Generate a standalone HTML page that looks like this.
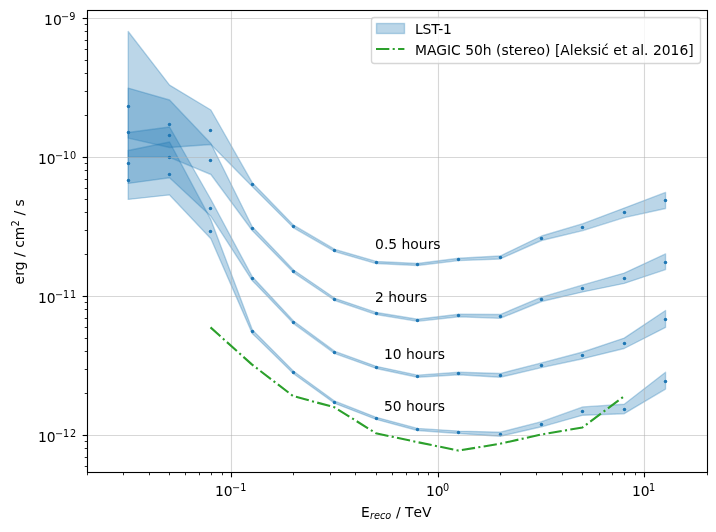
<!DOCTYPE html>
<html lang="en"><head><meta charset="utf-8"><title>LST-1 differential sensitivity</title>
<style>
html,body{margin:0;padding:0;background:#ffffff;}
svg{display:block;will-change:transform;filter:grayscale(0);}
text{font-family:"DejaVu Sans","Liberation Sans",sans-serif;fill:#000;}
.t10{font-size:13.889px;}
.t7{font-size:9.722px;}
.nk{font-kerning:none;}
</style></head>
<body>
<svg width="716" height="532" viewBox="0 0 716 532">
<rect x="0" y="0" width="716" height="532" fill="#ffffff"/>
<clipPath id="axclip"><rect x="87.1" y="10.22" width="620.0" height="462.0"/></clipPath>
<g clip-path="url(#axclip)" fill="#1f77b4" fill-opacity="0.3" stroke="#1f77b4" stroke-opacity="0.3" stroke-width="1.389" stroke-linejoin="round">
<polygon points="128.22,31.5 169.55,85.1 210.89,110 252.22,182.7 293.55,225.2 334.89,249.4 376.22,261.45 417.55,263.45 458.89,258.2 500.22,256.05 541.55,236 582.89,223.7 624.22,208.1 665.55,192.4 665.55,208.5 624.22,217.6 582.89,230.6 541.55,240.5 500.22,258.95 458.89,260.6 417.55,265.55 376.22,263.55 334.89,251.6 293.55,227.8 252.22,186.5 210.89,144.5 169.55,147.5 128.22,138.1"/>
<polygon points="128.22,88.1 169.55,100 210.89,143.5 252.22,226.7 293.55,270 334.89,298.3 376.22,312.45 417.55,319.25 458.89,314.3 500.22,314.55 541.55,297.2 582.89,284.9 624.22,273.1 665.55,253.9 665.55,269.6 624.22,283.4 582.89,291.9 541.55,301.5 500.22,318.35 458.89,316.7 417.55,321.35 376.22,314.55 334.89,300.5 293.55,272.6 252.22,230.5 210.89,174.5 169.55,157.3 128.22,157.2"/>
<polygon points="128.22,132.5 169.55,127 210.89,199.5 252.22,276.7 293.55,321 334.89,351.4 376.22,366.35 417.55,375.15 458.89,372.3 500.22,373.55 541.55,362.9 582.89,352 624.22,338.1 665.55,310.5 665.55,327.4 624.22,348.5 582.89,358.7 541.55,367.6 500.22,377.25 458.89,374.7 417.55,377.25 376.22,368.45 334.89,353.6 293.55,323.6 252.22,280.5 210.89,216.3 169.55,177.7 128.22,183.4"/>
<polygon points="128.22,150.5 169.55,142 210.89,219.7 252.22,329.6 293.55,371.2 334.89,401.2 376.22,417.35 417.55,428.4 458.89,431.1 500.22,432.2 541.55,421.7 582.89,406.9 624.22,404.3 665.55,372.3 665.55,389.1 624.22,413.7 582.89,415.2 541.55,426.8 500.22,436.25 458.89,433.5 417.55,430.5 376.22,419.45 334.89,403.4 293.55,373.8 252.22,333.4 210.89,238.8 169.55,194.9 128.22,199.4"/>
</g>
<g fill="#1f77b4" stroke="none">
<circle cx="128.5" cy="106.5" r="1.74"/><circle cx="169.5" cy="124.5" r="1.74"/><circle cx="210.5" cy="130.5" r="1.74"/><circle cx="252.5" cy="184.5" r="1.74"/><circle cx="293.5" cy="226.5" r="1.74"/><circle cx="334.5" cy="250.5" r="1.74"/><circle cx="376.5" cy="262.5" r="1.74"/><circle cx="417.5" cy="264.5" r="1.74"/><circle cx="458.5" cy="259.5" r="1.74"/><circle cx="500.5" cy="257.5" r="1.74"/><circle cx="541.5" cy="238.5" r="1.74"/><circle cx="582.5" cy="227.5" r="1.74"/><circle cx="624.5" cy="212.5" r="1.74"/><circle cx="665.5" cy="200.5" r="1.74"/>
<circle cx="128.5" cy="132.5" r="1.74"/><circle cx="169.5" cy="135.5" r="1.74"/><circle cx="210.5" cy="160.5" r="1.74"/><circle cx="252.5" cy="228.5" r="1.74"/><circle cx="293.5" cy="271.5" r="1.74"/><circle cx="334.5" cy="299.5" r="1.74"/><circle cx="376.5" cy="313.5" r="1.74"/><circle cx="417.5" cy="320.5" r="1.74"/><circle cx="458.5" cy="315.5" r="1.74"/><circle cx="500.5" cy="316.5" r="1.74"/><circle cx="541.5" cy="299.5" r="1.74"/><circle cx="582.5" cy="288.5" r="1.74"/><circle cx="624.5" cy="278.5" r="1.74"/><circle cx="665.5" cy="262.5" r="1.74"/>
<circle cx="128.5" cy="163.5" r="1.74"/><circle cx="169.5" cy="157.5" r="1.74"/><circle cx="210.5" cy="208.5" r="1.74"/><circle cx="252.5" cy="278.5" r="1.74"/><circle cx="293.5" cy="322.5" r="1.74"/><circle cx="334.5" cy="352.5" r="1.74"/><circle cx="376.5" cy="367.5" r="1.74"/><circle cx="417.5" cy="376.5" r="1.74"/><circle cx="458.5" cy="373.5" r="1.74"/><circle cx="500.5" cy="375.5" r="1.74"/><circle cx="541.5" cy="365.5" r="1.74"/><circle cx="582.5" cy="355.5" r="1.74"/><circle cx="624.5" cy="343.5" r="1.74"/><circle cx="665.5" cy="319.5" r="1.74"/>
<circle cx="128.5" cy="180.5" r="1.74"/><circle cx="169.5" cy="174.5" r="1.74"/><circle cx="210.5" cy="231.5" r="1.74"/><circle cx="252.5" cy="331.5" r="1.74"/><circle cx="293.5" cy="372.5" r="1.74"/><circle cx="334.5" cy="402.5" r="1.74"/><circle cx="376.5" cy="418.5" r="1.74"/><circle cx="417.5" cy="429.5" r="1.74"/><circle cx="458.5" cy="432.5" r="1.74"/><circle cx="500.5" cy="434.5" r="1.74"/><circle cx="541.5" cy="424.5" r="1.74"/><circle cx="582.5" cy="411.5" r="1.74"/><circle cx="624.5" cy="409.5" r="1.74"/><circle cx="665.5" cy="381.5" r="1.74"/>
</g>
<g stroke="#b0b0b0" stroke-opacity="0.5" stroke-width="1.111" fill="none">
<line x1="231.5" y1="10.22" x2="231.5" y2="472.22"/>
<line x1="438.5" y1="10.22" x2="438.5" y2="472.22"/>
<line x1="644.5" y1="10.22" x2="644.5" y2="472.22"/>
<line x1="87.1" y1="18.5" x2="707.1" y2="18.5"/>
<line x1="87.1" y1="157.5" x2="707.1" y2="157.5"/>
<line x1="87.1" y1="296.5" x2="707.1" y2="296.5"/>
<line x1="87.1" y1="435.5" x2="707.1" y2="435.5"/>
</g>
<polyline clip-path="url(#axclip)" points="210.49,327.4 251.82,364.4 293.15,396.1 334.49,407.3 375.82,433.2 417.15,442.1 458.49,450.6 499.82,443.8 541.15,434.5 582.49,427.5 623.82,396.5" fill="none" stroke="#2ca02c" stroke-width="2.083" stroke-dasharray="13.333 3.333 2.083 3.333" stroke-linejoin="round"/>
<g stroke="#000" fill="none">
<g stroke-width="1.111">
<line x1="231.5" y1="472.5" x2="231.5" y2="477.36"/><line x1="438.5" y1="472.5" x2="438.5" y2="477.36"/><line x1="644.5" y1="472.5" x2="644.5" y2="477.36"/><line x1="87.5" y1="18.5" x2="82.64" y2="18.5"/><line x1="87.5" y1="157.5" x2="82.64" y2="157.5"/><line x1="87.5" y1="296.5" x2="82.64" y2="296.5"/><line x1="87.5" y1="435.5" x2="82.64" y2="435.5"/>
</g>
<g stroke-width="0.833">
<line x1="87.5" y1="472.5" x2="87.5" y2="475.28"/><line x1="123.5" y1="472.5" x2="123.5" y2="475.28"/><line x1="149.5" y1="472.5" x2="149.5" y2="475.28"/><line x1="169.5" y1="472.5" x2="169.5" y2="475.28"/><line x1="185.5" y1="472.5" x2="185.5" y2="475.28"/><line x1="199.5" y1="472.5" x2="199.5" y2="475.28"/><line x1="211.5" y1="472.5" x2="211.5" y2="475.28"/><line x1="222.5" y1="472.5" x2="222.5" y2="475.28"/><line x1="293.5" y1="472.5" x2="293.5" y2="475.28"/><line x1="330.5" y1="472.5" x2="330.5" y2="475.28"/><line x1="355.5" y1="472.5" x2="355.5" y2="475.28"/><line x1="376.5" y1="472.5" x2="376.5" y2="475.28"/><line x1="392.5" y1="472.5" x2="392.5" y2="475.28"/><line x1="406.5" y1="472.5" x2="406.5" y2="475.28"/><line x1="418.5" y1="472.5" x2="418.5" y2="475.28"/><line x1="428.5" y1="472.5" x2="428.5" y2="475.28"/><line x1="500.5" y1="472.5" x2="500.5" y2="475.28"/><line x1="536.5" y1="472.5" x2="536.5" y2="475.28"/><line x1="562.5" y1="472.5" x2="562.5" y2="475.28"/><line x1="582.5" y1="472.5" x2="582.5" y2="475.28"/><line x1="599.5" y1="472.5" x2="599.5" y2="475.28"/><line x1="612.5" y1="472.5" x2="612.5" y2="475.28"/><line x1="624.5" y1="472.5" x2="624.5" y2="475.28"/><line x1="635.5" y1="472.5" x2="635.5" y2="475.28"/><line x1="707.5" y1="472.5" x2="707.5" y2="475.28"/>
<line x1="87.5" y1="466.5" x2="84.72" y2="466.5"/><line x1="87.5" y1="457.5" x2="84.72" y2="457.5"/><line x1="87.5" y1="448.5" x2="84.72" y2="448.5"/><line x1="87.5" y1="441.5" x2="84.72" y2="441.5"/><line x1="87.5" y1="393.5" x2="84.72" y2="393.5"/><line x1="87.5" y1="369.5" x2="84.72" y2="369.5"/><line x1="87.5" y1="351.5" x2="84.72" y2="351.5"/><line x1="87.5" y1="338.5" x2="84.72" y2="338.5"/><line x1="87.5" y1="327.5" x2="84.72" y2="327.5"/><line x1="87.5" y1="318.5" x2="84.72" y2="318.5"/><line x1="87.5" y1="309.5" x2="84.72" y2="309.5"/><line x1="87.5" y1="302.5" x2="84.72" y2="302.5"/><line x1="87.5" y1="254.5" x2="84.72" y2="254.5"/><line x1="87.5" y1="230.5" x2="84.72" y2="230.5"/><line x1="87.5" y1="212.5" x2="84.72" y2="212.5"/><line x1="87.5" y1="199.5" x2="84.72" y2="199.5"/><line x1="87.5" y1="188.5" x2="84.72" y2="188.5"/><line x1="87.5" y1="179.5" x2="84.72" y2="179.5"/><line x1="87.5" y1="170.5" x2="84.72" y2="170.5"/><line x1="87.5" y1="163.5" x2="84.72" y2="163.5"/><line x1="87.5" y1="115.5" x2="84.72" y2="115.5"/><line x1="87.5" y1="91.5" x2="84.72" y2="91.5"/><line x1="87.5" y1="73.5" x2="84.72" y2="73.5"/><line x1="87.5" y1="60.5" x2="84.72" y2="60.5"/><line x1="87.5" y1="49.5" x2="84.72" y2="49.5"/><line x1="87.5" y1="40.5" x2="84.72" y2="40.5"/><line x1="87.5" y1="31.5" x2="84.72" y2="31.5"/><line x1="87.5" y1="24.5" x2="84.72" y2="24.5"/>
</g>
<rect x="87.5" y="10.5" width="620.0" height="462.0" stroke-width="1.111"/>
</g>
<text class="t10 nk" x="215" y="496">10<tspan class="t7" x="232 240.15" y="490.9">−1</tspan></text>
<text class="t10 nk" x="426" y="496">10<tspan class="t7" x="443" y="490.9">0</tspan></text>
<text class="t10 nk" x="632" y="496">10<tspan class="t7" x="649" y="490.9">1</tspan></text>
<text class="t10 nk" x="44.1" y="24.7">10<tspan class="t7" x="61.1 69.25" y="19.6">−9</tspan></text>
<text class="t10 nk" x="37.9" y="163.7">10<tspan class="t7" x="54.9 63.05 69.95" y="158.6">−10</tspan></text>
<text class="t10 nk" x="37.9" y="302.7">10<tspan class="t7" x="54.9 63.05 69.95" y="297.6">−11</tspan></text>
<text class="t10 nk" x="37.9" y="441.7">10<tspan class="t7" x="54.9 63.05 69.95" y="436.6">−12</tspan></text>
<text class="t10 nk" x="361.0" y="517.0">E<tspan class="t7" font-style="oblique" x="369.91" y="519.28">reco</tspan><tspan x="391.56" y="517.0"> / TeV</tspan></text>
<g transform="translate(24.0 284.4) rotate(-90)"><text class="t10 nk" x="0" y="0">erg / cm<tspan class="t7" x="57.88" y="-5.32">2</tspan><tspan x="64.44" y="0"> / s</tspan></text></g>
<text class="t10" x="375.1" y="248.7">0.5 hours</text>
<text class="t10" x="375" y="301.7">2 hours</text>
<text class="t10" x="383.9" y="358.7">10 hours</text>
<text class="t10" x="383.9" y="410.9">50 hours</text>
<rect x="371.5" y="17.5" width="329.0" height="46.0" rx="2.78" ry="2.78" fill="#ffffff" fill-opacity="0.8" stroke="#cccccc" stroke-opacity="0.8" stroke-width="1.389"/>
<rect x="376.5" y="23.5" width="28" height="10" fill="#1f77b4" fill-opacity="0.3" stroke="#1f77b4" stroke-opacity="0.3" stroke-width="1.389"/>
<line x1="376" y1="49" x2="404.4" y2="49" stroke="#2ca02c" stroke-width="2.083" stroke-dasharray="13.333 3.333 2.083 3.333"/>
<text class="t10" x="415" y="34" letter-spacing="-0.2">LST-1</text>
<text class="t10" x="415" y="55">MAGIC 50h (stereo) [Aleksić et al. 2016]</text>
</svg>
</body></html>
